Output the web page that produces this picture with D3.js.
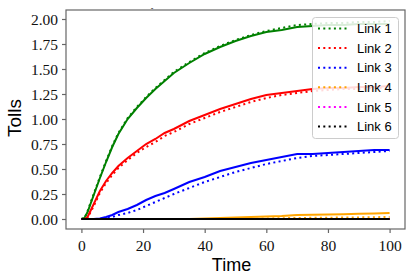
<!DOCTYPE html>
<html>
<head>
<meta charset="utf-8">
<script src="https://cdn.jsdelivr.net/npm/d3@7"></script>
<style>
  body { margin: 0; background: #fff; }
</style>
</head>
<body>
<script>
// time steps shared by all series
var times = [0,1,2,4,6,8,10,12,15,18,21,24,27,30,35,40,45,50,55,60,65,70,75,80,85,90,95,100];

var link1 = [0,0.01,0.07,0.24,0.41,0.57,0.72,0.85,1.00,1.11,1.21,1.30,1.38,1.46,1.56,1.65,1.72,1.78,1.83,1.87,1.89,1.92,1.93,1.94,1.94,1.95,1.95,1.95];
var link1b = [0,0.01,0.08,0.25,0.42,0.58,0.73,0.86,1.01,1.12,1.22,1.31,1.39,1.47,1.57,1.66,1.73,1.79,1.84,1.88,1.91,1.94,1.95,1.96,1.96,1.97,1.97,1.98];
var link2 = [0,0,0.02,0.15,0.28,0.38,0.46,0.53,0.61,0.68,0.75,0.80,0.86,0.90,0.98,1.04,1.10,1.15,1.20,1.24,1.26,1.28,1.30,1.31,1.31,1.32,1.32,1.33];
var link2b = [0,0,0.01,0.13,0.26,0.36,0.44,0.51,0.59,0.66,0.72,0.77,0.83,0.87,0.95,1.01,1.07,1.12,1.17,1.21,1.24,1.26,1.28,1.29,1.30,1.30,1.31,1.31];
var link3 = [0,0,0,0,0.005,0.02,0.04,0.07,0.10,0.14,0.19,0.23,0.26,0.30,0.37,0.42,0.48,0.52,0.56,0.59,0.62,0.65,0.65,0.66,0.67,0.68,0.69,0.69];
var link3b = [0,0,0,0,0,0.01,0.02,0.04,0.06,0.09,0.13,0.17,0.21,0.25,0.31,0.37,0.42,0.47,0.51,0.55,0.58,0.61,0.63,0.64,0.65,0.66,0.67,0.68];
var link4 = [0,0,0,0,0,0,0,0,0,0,0,0,0,0,0,0.005,0.01,0.015,0.02,0.025,0.03,0.04,0.042,0.045,0.048,0.052,0.056,0.06];
var link4b = [0,0,0,0,0,0,0,0,0,0,0,0,0,0,0,0,0,0,0.002,0.005,0.008,0.01,0.012,0.013,0.015,0.016,0.018,0.02];
var link5 = [0,0,0,0,0,0,0,0,0,0,0,0,0,0,0,0,0,0,0,0,0,0,0,0,0,0,0,0];
var link6 = [0,0,0,0,0,0,0,0,0,0,0,0,0,0,0,0,0,0,0,0,0,0,0,0,0,0,0,0];

var names = ["Link 1","Link 2","Link 3","Link 4","Link 5","Link 6"];
var colors = ["green","red","blue","orange","magenta","black"];
var solid = [link1, link2, link3, link4, link5, link6];
var dotted = [link1b, link2b, link3b, link4b, link5, link6];

var xTicks = [0,20,40,60,80,100];
var yTicks = [0,0.25,0.5,0.75,1,1.25,1.5,1.75,2];

var width = 412, height = 280;
var mLeft = 66, mRight = 405, mTop = 10, mBottom = 229;

var svg = d3.select("body").append("svg")
  .attr("width", width).attr("height", height);

var x = d3.scaleLinear().domain([-5, 105]).range([mLeft, mRight]);
var y = d3.scaleLinear().domain([-0.1, 2.09]).range([mBottom, mTop]);

var line = d3.line()
  .x(function(d){ return x(d[0]); })
  .y(function(d){ return y(d[1]); });

svg.append("defs").append("clipPath").attr("id", "clip")
  .append("rect").attr("x", mLeft).attr("y", mTop)
  .attr("width", mRight - mLeft).attr("height", mBottom - mTop);

var lines = svg.append("g").attr("clip-path", "url(#clip)");
for (var k = 0; k < names.length; k++) {
  lines.append("path")
    .attr("d", line(d3.zip(times, solid[k])))
    .attr("fill", "none")
    .attr("stroke", colors[k])
    .attr("stroke-width", 2);
  lines.append("path")
    .attr("d", line(d3.zip(times, dotted[k])))
    .attr("fill", "none")
    .attr("stroke", colors[k])
    .attr("stroke-width", 2)
    .attr("stroke-dasharray", "2,3.3");
}

// frame
svg.append("rect")
  .attr("x", mLeft).attr("y", mTop)
  .attr("width", mRight - mLeft).attr("height", mBottom - mTop)
  .attr("fill", "none").attr("stroke", "#666").attr("stroke-width", 1.2);

var xAxis = svg.append("g")
  .attr("transform", "translate(0," + mBottom + ")")
  .call(d3.axisBottom(x).tickValues(xTicks).tickSize(4).tickPadding(3).tickFormat(d3.format("d")));
var yAxis = svg.append("g")
  .attr("transform", "translate(" + mLeft + ",0)")
  .call(d3.axisLeft(y).tickValues(yTicks).tickSize(4).tickPadding(4).tickFormat(d3.format(".2f")));

[xAxis, yAxis].forEach(function(a) {
  a.select(".domain").remove();
  a.selectAll(".tick line").attr("stroke", "#666").attr("stroke-width", 1.2);
  a.selectAll("text")
    .attr("fill", "#111")
    .style("font-family", "'Liberation Serif', 'DejaVu Serif', serif")
    .style("font-size", "15.5px");
});
xAxis.selectAll("text").attr("dy", "0.95em");
yAxis.selectAll("text").attr("dy", "0.33em");

// axis labels
svg.append("text")
  .attr("x", (mLeft + mRight) / 2 - 4).attr("y", 271)
  .attr("text-anchor", "middle")
  .style("font-family", "'Liberation Sans', Arial, sans-serif")
  .style("font-size", "18px")
  .text("Time");
svg.append("text")
  .attr("transform", "translate(21,118) rotate(-90)")
  .attr("text-anchor", "middle")
  .style("font-family", "'Liberation Sans', Arial, sans-serif")
  .style("font-size", "19px")
  .text("Tolls");

// stray title mark above plot
svg.append("text")
  .attr("x", 152).attr("y", 10)
  .attr("text-anchor", "middle")
  .style("font-family", "'Liberation Sans', Arial, sans-serif")
  .style("font-size", "8px")
  .text("-");

// legend
var lg = svg.append("g");
lg.append("rect")
  .attr("x", 312.5).attr("y", 17.5)
  .attr("width", 86).attr("height", 121)
  .attr("rx", 3)
  .attr("fill", "#fff").attr("fill-opacity", 0.85)
  .attr("stroke", "#ccc");
names.forEach(function(n, i) {
  var yy = 28.5 + i * 19.6;
  lg.append("line")
    .attr("x1", 318).attr("x2", 347)
    .attr("y1", yy).attr("y2", yy)
    .attr("stroke", colors[i]).attr("stroke-width", 2)
    .attr("stroke-dasharray", "2,3.3");
  lg.append("text")
    .attr("x", 357).attr("y", yy + 4.6)
    .style("font-family", "'Liberation Sans', Arial, sans-serif")
    .style("font-size", "13px")
    .text(n);
});
</script>
</body>
</html>
